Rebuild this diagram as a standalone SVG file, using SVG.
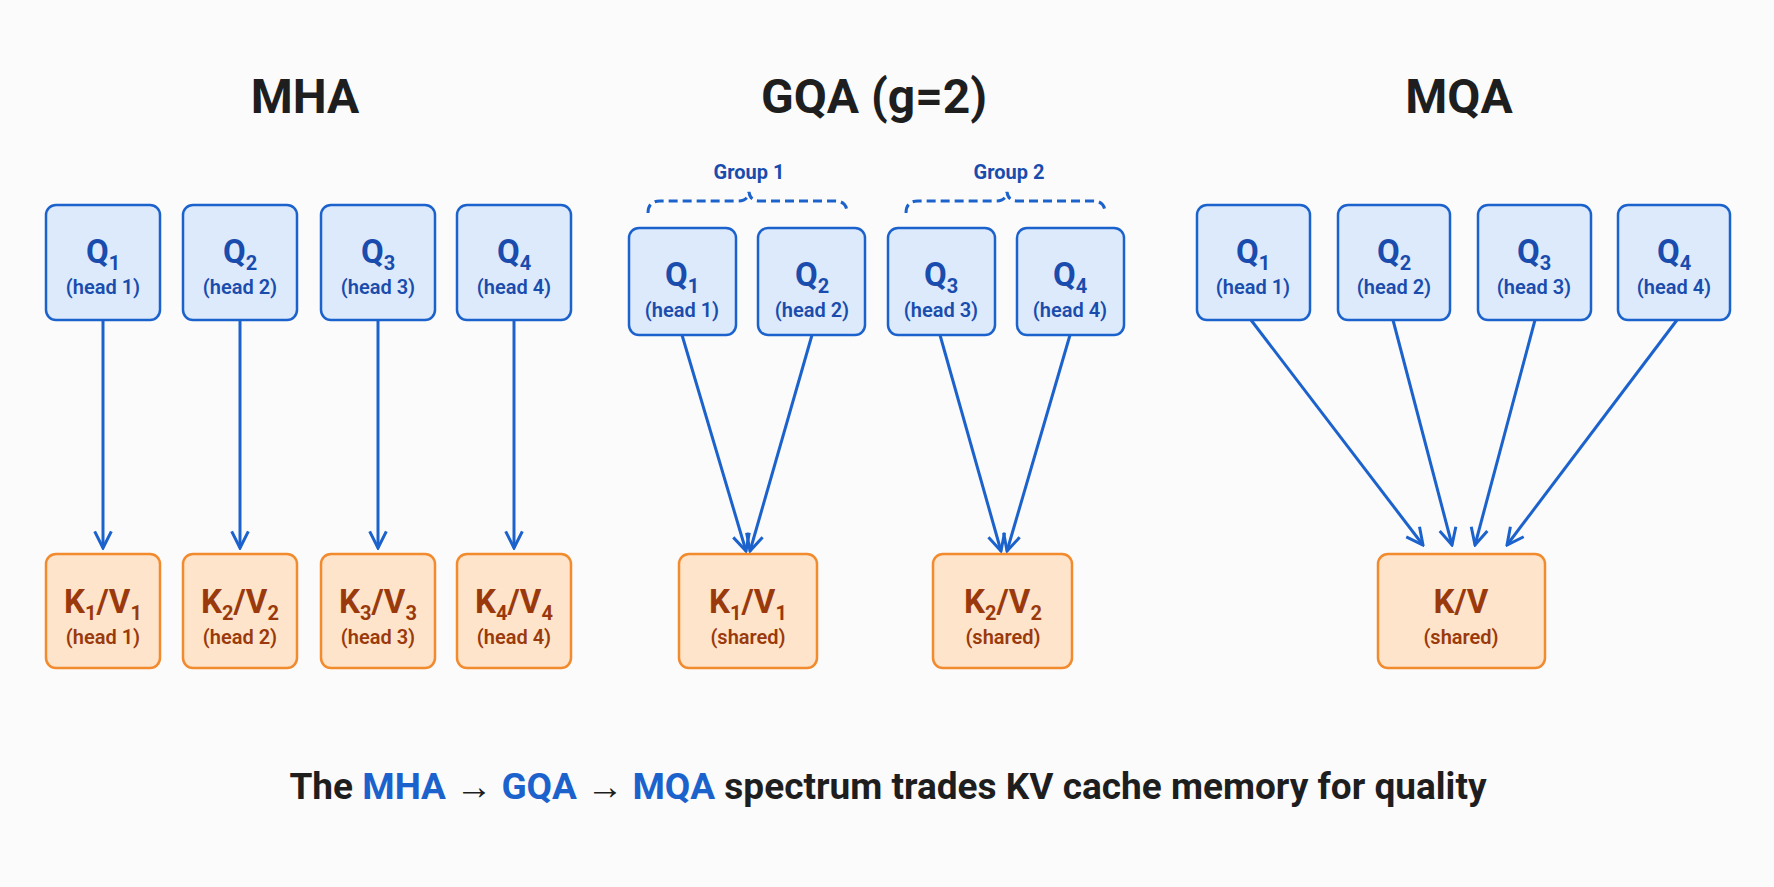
<svg xmlns="http://www.w3.org/2000/svg" width="1774" height="887" viewBox="0 0 1774 887">
<defs>
<style>
text{font-family:Roboto,"Liberation Sans",sans-serif;font-weight:bold;text-anchor:middle}
.q rect{fill:#dceafc;stroke:#1c62cc;stroke-width:2.5}
.kv rect{fill:#fde4ca;stroke:#f28a2e;stroke-width:2.5}
.q text{fill:#1a4cad}
.kv text{fill:#9a3a0c}
.big{font-size:33px}
.sm{font-size:20px;font-weight:600}
.sub{font-size:20px}
.title{font-size:48px;fill:#1e1e1e}
.grp{font-size:20px;fill:#1a4cad}
.conn line{stroke:#1c62cc;stroke-width:3;marker-end:url(#ah)}
.brace{fill:none;stroke:#1c62cc;stroke-width:3;stroke-dasharray:9 5}
</style>
<marker id="ah" viewBox="0 0 12 12" refX="11" refY="6" markerWidth="20" markerHeight="20" markerUnits="userSpaceOnUse" orient="auto">
<path d="M1,1 L11,6 L1,11" fill="none" stroke="#1c62cc" stroke-width="1.8"/>
</marker>
</defs>
<rect width="1774" height="887" fill="#fbfbfb"/>
<text class="title" x="305" y="113">MHA</text>
<text class="title" x="874" y="113">GQA (g=2)</text>
<text class="title" x="1459" y="113">MQA</text>

<text class="grp" x="749" y="179">Group 1</text>
<text class="grp" x="1009" y="179">Group 2</text>
<path class="brace" d="M648,213 Q648,201 660,201 L738,201 Q748,201 749,192 Q750,201 760,201 L835,201 Q847,201 847,213"/>
<path class="brace" d="M906,213 Q906,201 918,201 L996,201 Q1006,201 1007,192 Q1008,201 1018,201 L1093,201 Q1105,201 1105,213"/>

<g class="conn">
<line x1="103" y1="320" x2="103" y2="548"/>
<line x1="240" y1="320" x2="240" y2="548"/>
<line x1="378" y1="320" x2="378" y2="548"/>
<line x1="514" y1="320" x2="514" y2="548"/>
<line x1="682" y1="335" x2="746" y2="551"/>
<line x1="812" y1="335" x2="750" y2="551"/>
<line x1="940" y1="335" x2="1001" y2="551"/>
<line x1="1070" y1="335" x2="1007" y2="551"/>
<line x1="1251" y1="320" x2="1423" y2="545"/>
<line x1="1393" y1="320" x2="1452" y2="545"/>
<line x1="1535" y1="320" x2="1475" y2="545"/>
<line x1="1677" y1="320" x2="1507" y2="545"/>
</g>

<g id="mha-q1" class="q"><rect x="46" y="205" width="114" height="115" rx="10"/><text class="big" x="103" y="263">Q<tspan class="sub" dy="7">1</tspan></text><text class="sm" x="103" y="294">(head 1)</text></g>
<g id="mha-q2" class="q"><rect x="183" y="205" width="114" height="115" rx="10"/><text class="big" x="240" y="263">Q<tspan class="sub" dy="7">2</tspan></text><text class="sm" x="240" y="294">(head 2)</text></g>
<g id="mha-q3" class="q"><rect x="321" y="205" width="114" height="115" rx="10"/><text class="big" x="378" y="263">Q<tspan class="sub" dy="7">3</tspan></text><text class="sm" x="378" y="294">(head 3)</text></g>
<g id="mha-q4" class="q"><rect x="457" y="205" width="114" height="115" rx="10"/><text class="big" x="514" y="263">Q<tspan class="sub" dy="7">4</tspan></text><text class="sm" x="514" y="294">(head 4)</text></g>

<g id="mha-kv1" class="kv"><rect x="46" y="554" width="114" height="114" rx="10"/><text class="big" x="103" y="613">K<tspan class="sub" dy="7">1</tspan><tspan dy="-7">/V</tspan><tspan class="sub" dy="7">1</tspan></text><text class="sm" x="103" y="644">(head 1)</text></g>
<g id="mha-kv2" class="kv"><rect x="183" y="554" width="114" height="114" rx="10"/><text class="big" x="240" y="613">K<tspan class="sub" dy="7">2</tspan><tspan dy="-7">/V</tspan><tspan class="sub" dy="7">2</tspan></text><text class="sm" x="240" y="644">(head 2)</text></g>
<g id="mha-kv3" class="kv"><rect x="321" y="554" width="114" height="114" rx="10"/><text class="big" x="378" y="613">K<tspan class="sub" dy="7">3</tspan><tspan dy="-7">/V</tspan><tspan class="sub" dy="7">3</tspan></text><text class="sm" x="378" y="644">(head 3)</text></g>
<g id="mha-kv4" class="kv"><rect x="457" y="554" width="114" height="114" rx="10"/><text class="big" x="514" y="613">K<tspan class="sub" dy="7">4</tspan><tspan dy="-7">/V</tspan><tspan class="sub" dy="7">4</tspan></text><text class="sm" x="514" y="644">(head 4)</text></g>

<g id="gqa-q1" class="q"><rect x="629" y="228" width="107" height="107" rx="10"/><text class="big" x="682" y="286">Q<tspan class="sub" dy="7">1</tspan></text><text class="sm" x="682" y="317">(head 1)</text></g>
<g id="gqa-q2" class="q"><rect x="758" y="228" width="107" height="107" rx="10"/><text class="big" x="812" y="286">Q<tspan class="sub" dy="7">2</tspan></text><text class="sm" x="812" y="317">(head 2)</text></g>
<g id="gqa-q3" class="q"><rect x="888" y="228" width="107" height="107" rx="10"/><text class="big" x="941" y="286">Q<tspan class="sub" dy="7">3</tspan></text><text class="sm" x="941" y="317">(head 3)</text></g>
<g id="gqa-q4" class="q"><rect x="1017" y="228" width="107" height="107" rx="10"/><text class="big" x="1070" y="286">Q<tspan class="sub" dy="7">4</tspan></text><text class="sm" x="1070" y="317">(head 4)</text></g>

<g id="gqa-kv1" class="kv"><rect x="679" y="554" width="138" height="114" rx="10"/><text class="big" x="748" y="613">K<tspan class="sub" dy="7">1</tspan><tspan dy="-7">/V</tspan><tspan class="sub" dy="7">1</tspan></text><text class="sm" x="748" y="644">(shared)</text></g>
<g id="gqa-kv2" class="kv"><rect x="933" y="554" width="139" height="114" rx="10"/><text class="big" x="1003" y="613">K<tspan class="sub" dy="7">2</tspan><tspan dy="-7">/V</tspan><tspan class="sub" dy="7">2</tspan></text><text class="sm" x="1003" y="644">(shared)</text></g>

<g id="mqa-q1" class="q"><rect x="1197" y="205" width="113" height="115" rx="10"/><text class="big" x="1253" y="263">Q<tspan class="sub" dy="7">1</tspan></text><text class="sm" x="1253" y="294">(head 1)</text></g>
<g id="mqa-q2" class="q"><rect x="1338" y="205" width="112" height="115" rx="10"/><text class="big" x="1394" y="263">Q<tspan class="sub" dy="7">2</tspan></text><text class="sm" x="1394" y="294">(head 2)</text></g>
<g id="mqa-q3" class="q"><rect x="1478" y="205" width="113" height="115" rx="10"/><text class="big" x="1534" y="263">Q<tspan class="sub" dy="7">3</tspan></text><text class="sm" x="1534" y="294">(head 3)</text></g>
<g id="mqa-q4" class="q"><rect x="1618" y="205" width="112" height="115" rx="10"/><text class="big" x="1674" y="263">Q<tspan class="sub" dy="7">4</tspan></text><text class="sm" x="1674" y="294">(head 4)</text></g>

<g id="mqa-kv" class="kv"><rect x="1378" y="554" width="167" height="114" rx="10"/><text class="big" x="1461" y="613">K/V</text><text class="sm" x="1461" y="644">(shared)</text></g>

<text x="888" y="799" style="font-size:37px;fill:#1e1e1e">The <tspan fill="#1c62cc">MHA</tspan> → <tspan fill="#1c62cc">GQA</tspan> → <tspan fill="#1c62cc">MQA</tspan> spectrum trades KV cache memory for quality</text>
</svg>
